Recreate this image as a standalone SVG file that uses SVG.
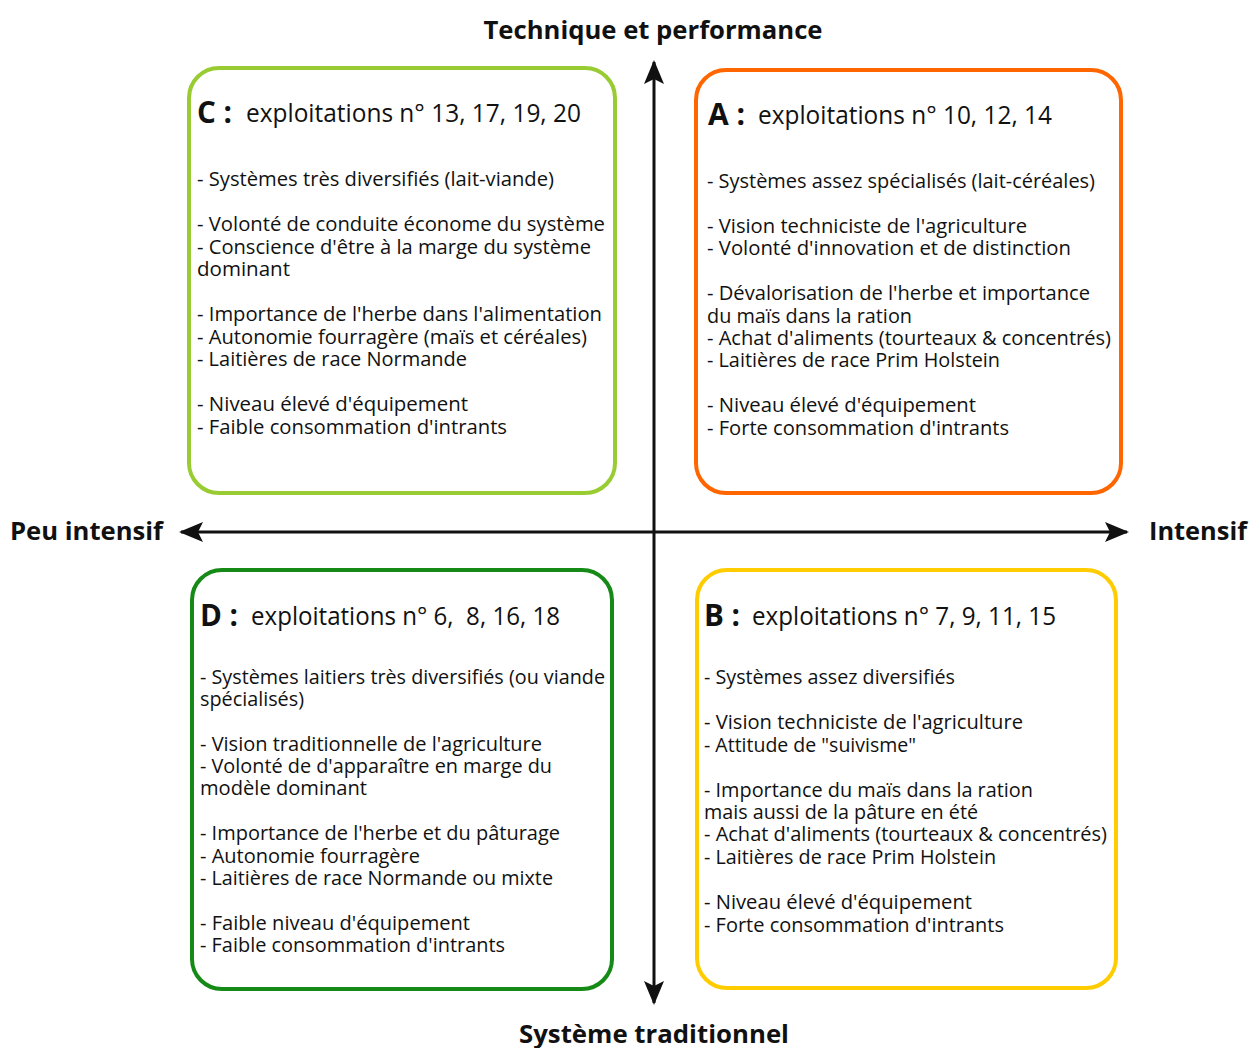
<svg xmlns="http://www.w3.org/2000/svg" width="1250" height="1048" viewBox="0 0 1250 1048">
<defs>
<style>
.box{fill:#fff;stroke-width:4}
.t{font-family:"Open Sans","Noto Sans",sans-serif;font-size:19.5px;fill:#111}
.h{font-family:"Open Sans","Noto Sans",sans-serif;font-size:26px;fill:#111}
.hb{font-family:"Open Sans","Noto Sans",sans-serif;font-size:30px;font-weight:bold;fill:#111}
.ax{font-family:"Open Sans","Noto Sans",sans-serif;font-size:25px;font-weight:bold;fill:#111}
.axis{stroke:#111;stroke-width:3;fill:none}
</style>
<marker id="arr" markerUnits="userSpaceOnUse" markerWidth="30" markerHeight="24" viewBox="-26 -12 30 24" refX="0" refY="0" orient="auto-start-reverse">
<path d="M2,0 L-22,-10 L-17,0 L-22,10 Z" fill="#111"/>
</marker>
</defs>
<rect width="1250" height="1048" fill="#fff"/>
<g id="connectors">
<line class="axis" x1="654" y1="1003" x2="654" y2="62" marker-start="url(#arr)" marker-end="url(#arr)"/>
<line class="axis" x1="181" y1="532" x2="1127" y2="532" marker-start="url(#arr)" marker-end="url(#arr)"/>
</g>
<g id="axis-labels">
<text class="ax" x="653" y="39" text-anchor="middle" textLength="339" lengthAdjust="spacingAndGlyphs">Technique et performance</text>
<text class="ax" x="654" y="1043" text-anchor="middle" textLength="270" lengthAdjust="spacingAndGlyphs">Système traditionnel</text>
<text class="ax" x="10" y="540" textLength="153" lengthAdjust="spacingAndGlyphs">Peu intensif</text>
<text class="ax" x="1149" y="540" textLength="98" lengthAdjust="spacingAndGlyphs">Intensif</text>
</g>
<g id="node-C">
<rect class="box" x="189" y="68" width="426" height="425" rx="30" stroke="#99cc33"/>
<text class="hb" x="197" y="123" textLength="35" lengthAdjust="spacingAndGlyphs">C :</text>
<text class="h" x="246" y="122" textLength="335" lengthAdjust="spacingAndGlyphs">exploitations n° 13, 17, 19, 20</text>
<text class="t" x="197" y="186" textLength="357" lengthAdjust="spacingAndGlyphs">- Systèmes très diversifiés (lait-viande)</text>
<text class="t" x="197" y="231" textLength="408" lengthAdjust="spacingAndGlyphs">- Volonté de conduite économe du système</text>
<text class="t" x="197" y="254" textLength="394" lengthAdjust="spacingAndGlyphs">- Conscience d'être à la marge du système</text>
<text class="t" x="197" y="276" textLength="93" lengthAdjust="spacingAndGlyphs">dominant</text>
<text class="t" x="197" y="321" textLength="405" lengthAdjust="spacingAndGlyphs">- Importance de l'herbe dans l'alimentation</text>
<text class="t" x="197" y="344" textLength="390" lengthAdjust="spacingAndGlyphs">- Autonomie fourragère (maïs et céréales)</text>
<text class="t" x="197" y="366" textLength="270" lengthAdjust="spacingAndGlyphs">- Laitières de race Normande</text>
<text class="t" x="197" y="411" textLength="271" lengthAdjust="spacingAndGlyphs">- Niveau élevé d'équipement</text>
<text class="t" x="197" y="434" textLength="310" lengthAdjust="spacingAndGlyphs">- Faible consommation d'intrants</text>
</g>
<g id="node-A">
<rect class="box" x="696" y="70" width="425" height="423" rx="30" stroke="#ff6600"/>
<text class="hb" x="708" y="125" textLength="37" lengthAdjust="spacingAndGlyphs">A :</text>
<text class="h" x="758" y="124" textLength="294" lengthAdjust="spacingAndGlyphs">exploitations n° 10, 12, 14</text>
<text class="t" x="707" y="188" textLength="388" lengthAdjust="spacingAndGlyphs">- Systèmes assez spécialisés (lait-céréales)</text>
<text class="t" x="707" y="233" textLength="320" lengthAdjust="spacingAndGlyphs">- Vision techniciste de l'agriculture</text>
<text class="t" x="707" y="255" textLength="364" lengthAdjust="spacingAndGlyphs">- Volonté d'innovation et de distinction</text>
<text class="t" x="707" y="300" textLength="383" lengthAdjust="spacingAndGlyphs">- Dévalorisation de l'herbe et importance</text>
<text class="t" x="707" y="323" textLength="205" lengthAdjust="spacingAndGlyphs">du maïs dans la ration</text>
<text class="t" x="707" y="345" textLength="404" lengthAdjust="spacingAndGlyphs">- Achat d'aliments (tourteaux &amp; concentrés)</text>
<text class="t" x="707" y="367" textLength="293" lengthAdjust="spacingAndGlyphs">- Laitières de race Prim Holstein</text>
<text class="t" x="707" y="412" textLength="269" lengthAdjust="spacingAndGlyphs">- Niveau élevé d'équipement</text>
<text class="t" x="707" y="435" textLength="302" lengthAdjust="spacingAndGlyphs">- Forte consommation d'intrants</text>
</g>
<g id="node-D">
<rect class="box" x="192" y="570" width="420" height="419" rx="30" stroke="#168a16"/>
<text class="hb" x="200" y="626" textLength="38" lengthAdjust="spacingAndGlyphs">D :</text>
<text class="h" x="251" y="625" textLength="309" lengthAdjust="spacingAndGlyphs">exploitations n° 6,&#160; 8, 16, 18</text>
<text class="t" x="200" y="684" textLength="405" lengthAdjust="spacingAndGlyphs">- Systèmes laitiers très diversifiés (ou viande</text>
<text class="t" x="200" y="706" textLength="104" lengthAdjust="spacingAndGlyphs">spécialisés)</text>
<text class="t" x="200" y="751" textLength="342" lengthAdjust="spacingAndGlyphs">- Vision traditionnelle de l'agriculture</text>
<text class="t" x="200" y="773" textLength="352" lengthAdjust="spacingAndGlyphs">- Volonté de d'apparaître en marge du</text>
<text class="t" x="200" y="795" textLength="167" lengthAdjust="spacingAndGlyphs">modèle dominant</text>
<text class="t" x="200" y="840" textLength="360" lengthAdjust="spacingAndGlyphs">- Importance de l'herbe et du pâturage</text>
<text class="t" x="200" y="863" textLength="220" lengthAdjust="spacingAndGlyphs">- Autonomie fourragère</text>
<text class="t" x="200" y="885" textLength="353" lengthAdjust="spacingAndGlyphs">- Laitières de race Normande ou mixte</text>
<text class="t" x="200" y="930" textLength="270" lengthAdjust="spacingAndGlyphs">- Faible niveau d'équipement</text>
<text class="t" x="200" y="952" textLength="305" lengthAdjust="spacingAndGlyphs">- Faible consommation d'intrants</text>
</g>
<g id="node-B">
<rect class="box" x="697" y="570" width="419" height="418" rx="30" stroke="#ffcc00"/>
<text class="hb" x="704" y="626" textLength="36" lengthAdjust="spacingAndGlyphs">B :</text>
<text class="h" x="752" y="625" textLength="304" lengthAdjust="spacingAndGlyphs">exploitations n° 7, 9, 11, 15</text>
<text class="t" x="704" y="684" textLength="251" lengthAdjust="spacingAndGlyphs">- Systèmes assez diversifiés</text>
<text class="t" x="704" y="729" textLength="319" lengthAdjust="spacingAndGlyphs">- Vision techniciste de l'agriculture</text>
<text class="t" x="704" y="752" textLength="212" lengthAdjust="spacingAndGlyphs">- Attitude de "suivisme"</text>
<text class="t" x="704" y="797" textLength="329" lengthAdjust="spacingAndGlyphs">- Importance du maïs dans la ration</text>
<text class="t" x="704" y="819" textLength="274" lengthAdjust="spacingAndGlyphs">mais aussi de la pâture en été</text>
<text class="t" x="704" y="841" textLength="403" lengthAdjust="spacingAndGlyphs">- Achat d'aliments (tourteaux &amp; concentrés)</text>
<text class="t" x="704" y="864" textLength="292" lengthAdjust="spacingAndGlyphs">- Laitières de race Prim Holstein</text>
<text class="t" x="704" y="909" textLength="268" lengthAdjust="spacingAndGlyphs">- Niveau élevé d'équipement</text>
<text class="t" x="704" y="932" textLength="300" lengthAdjust="spacingAndGlyphs">- Forte consommation d'intrants</text>
</g>
</svg>
